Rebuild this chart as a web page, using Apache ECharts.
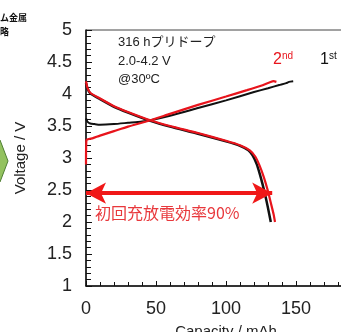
<!DOCTYPE html>
<html><head><meta charset="utf-8">
<script src="https://cdn.jsdelivr.net/npm/echarts@6/dist/echarts.min.js"></script>
<style>html,body{margin:0;padding:0;background:#fff;}#c{width:341px;height:332px;}</style>
</head><body><div id="c"></div>
<script>
// 1st charge (black)
const charge1X = [0, 1, 3, 6, 10, 20, 30, 40, 46, 60, 80, 100, 120, 130, 138, 143, 145, 148];
const charge1Y = [3.62, 3.57, 3.54, 3.53, 3.52, 3.53, 3.55, 3.57, 3.59, 3.66, 3.78, 3.9, 4.03, 4.09, 4.14, 4.17, 4.19, 4.2];
// 1st discharge (black)
const discharge1X = [0, 1, 3, 10, 20, 30, 46, 60, 80, 100, 110, 116, 119, 122, 124, 126, 128, 130, 132];
const discharge1Y = [4.17, 4.09, 4.01, 3.92, 3.8, 3.71, 3.58, 3.49, 3.38, 3.26, 3.19, 3.12, 3.04, 2.9, 2.76, 2.6, 2.42, 2.22, 2.0];
// 2nd charge (red)
const charge2X = [0, 0.3, 5, 10, 20, 30, 46, 60, 80, 100, 115, 125, 131, 134, 136];
const charge2Y = [2.9, 3.28, 3.31, 3.35, 3.42, 3.49, 3.59, 3.69, 3.83, 3.96, 4.06, 4.13, 4.18, 4.2, 4.19];
// 2nd discharge (red)
const discharge2X = [0, 1, 3, 10, 20, 30, 46, 60, 80, 100, 110, 117, 121, 124, 127, 130, 132, 134, 135];
const discharge2Y = [4.2, 4.1, 4.02, 3.93, 3.81, 3.72, 3.59, 3.5, 3.39, 3.27, 3.2, 3.12, 3.02, 2.88, 2.7, 2.48, 2.3, 2.12, 2.0];
// efficiency arrow
const arrowX = [0, 133];
const arrowY = 2.45;

const yTicks = {min: 1, max: 5, interval: 0.5};
const xTicks = {min: 0, max: 200, interval: 50};

function pairs(xs, ys) { return xs.map((x, i) => [x, ys[i]]); }

const FONT = 'Liberation Sans, Arial, Noto Sans CJK JP, sans-serif';
const chart = echarts.init(document.getElementById('c'));
chart.setOption({
  animation: false,
  grid: {left: 86, top: 30, height: 256, width: 280, containLabel: false, outerBoundsMode: 'none',
         show: true, borderColor: '#444', borderWidth: 1},
  xAxis: {
    type: 'value', min: xTicks.min, max: xTicks.max, interval: xTicks.interval,
    name: 'Capacity / mAh', nameLocation: 'middle', nameGap: 38,
    nameTextStyle: {fontSize: 15, color: '#222', fontFamily: FONT},
    axisLine: {lineStyle: {color: '#111', width: 1.5}},
    axisTick: {inside: true, length: 5, lineStyle: {color: '#111'}},
    minorTick: {show: true, splitNumber: 5, length: 4, lineStyle: {color: '#111'}},
    splitLine: {show: false},
    axisLabel: {fontSize: 18, color: '#222', margin: 14, fontFamily: FONT}
  },
  yAxis: {
    type: 'value', min: yTicks.min, max: yTicks.max, interval: yTicks.interval,
    name: 'Voltage / V', nameLocation: 'middle', nameGap: 58, nameRotate: 90,
    nameTextStyle: {fontSize: 15, color: '#222', fontFamily: FONT},
    axisLine: {lineStyle: {color: '#111', width: 1.5}},
    axisTick: {inside: true, length: 6, lineStyle: {color: '#111'}},
    minorTick: {show: true, splitNumber: 5, length: 5, lineStyle: {color: '#111'}},
    splitLine: {show: false},
    axisLabel: {fontSize: 18, color: '#222', margin: 14, fontFamily: FONT}
  },
  series: [
    {type: 'line', data: pairs(charge1X, charge1Y), showSymbol: false, smooth: 0.2,
     lineStyle: {color: '#111', width: 2}},
    {type: 'line', data: pairs(discharge1X, discharge1Y), showSymbol: false, smooth: 0.2,
     lineStyle: {color: '#111', width: 2.5}},
    {type: 'line', data: pairs(charge2X, charge2Y), showSymbol: false, smooth: 0.2,
     lineStyle: {color: '#e8141c', width: 2.2}},
    {type: 'line', data: pairs(discharge2X, discharge2Y), showSymbol: false, smooth: 0.2,
     lineStyle: {color: '#e8141c', width: 2.2},
     markLine: {
       silent: true, symbol: ['arrow', 'arrow'], symbolSize: [16, 20],
       label: {show: false},
       lineStyle: {color: '#f01818', width: 4, type: 'solid'},
       data: [[{coord: [arrowX[0], arrowY]}, {coord: [arrowX[1], arrowY]}]]
     }}
  ],
  graphic: [
    {type: 'polygon', shape: {points: [[-20, 140], [0, 140], [8, 161], [0, 182], [-20, 182]]},
     style: {fill: '#93c25f', stroke: '#4f7f34', lineWidth: 1}},
    {type: 'text', x: 27, y: 18, style: {text: 'ム金属', fill: '#111', font: 'bold 9px "Noto Sans CJK JP"', align: 'right', verticalAlign: 'middle'}},
    {type: 'text', x: 9, y: 32, style: {text: '略', fill: '#111', font: 'bold 9px "Noto Sans CJK JP"', align: 'right', verticalAlign: 'middle'}},
    {type: 'text', x: 118, y: 42, style: {text: '316 hプリドープ', fill: '#222', font: '13px "Liberation Sans", "Noto Sans CJK JP"', verticalAlign: 'middle'}},
    {type: 'text', x: 118, y: 61, style: {text: '2.0-4.2 V', fill: '#222', font: '13px "Liberation Sans"', verticalAlign: 'middle'}},
    {type: 'text', x: 118, y: 79, style: {text: '@30ºC', fill: '#222', font: '13px "Liberation Sans"', verticalAlign: 'middle'}},
    {type: 'text', x: 273, y: 60, style: {text: '{b|2}{s|nd}', verticalAlign: 'middle',
      rich: {b: {fontSize: 16, fill: '#e8141c', fontFamily: 'Liberation Sans'}, s: {fontSize: 10, fill: '#e8141c', fontFamily: 'Liberation Sans', verticalAlign: 'top', padding: [0, 0, 8, 0]}}}},
    {type: 'text', x: 320, y: 60, style: {text: '{b|1}{s|st}', verticalAlign: 'middle',
      rich: {b: {fontSize: 16, fill: '#111', fontFamily: 'Liberation Sans'}, s: {fontSize: 10, fill: '#111', fontFamily: 'Liberation Sans', verticalAlign: 'top', padding: [0, 0, 8, 0]}}}},
    {type: 'text', x: 95, y: 213, style: {text: '初回充放電効率90%', fill: '#e8383c', font: '16px "Noto Sans CJK JP"', verticalAlign: 'middle'}}
  ]
});
</script></body></html>
